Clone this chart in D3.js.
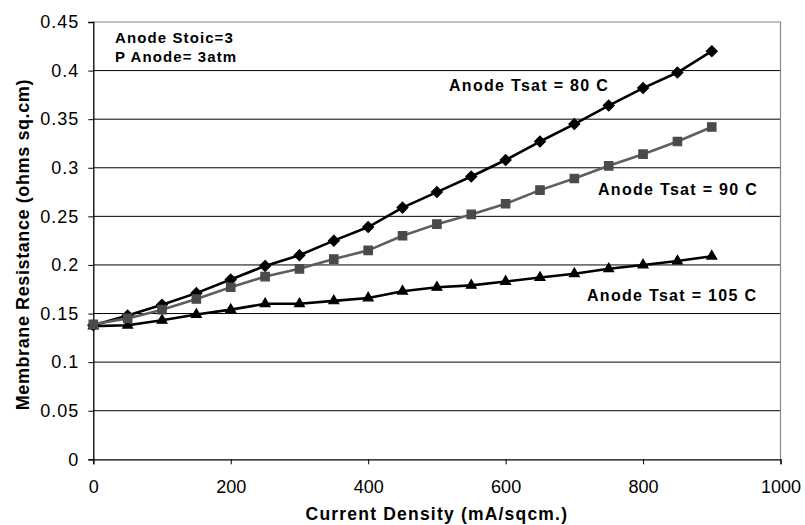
<!doctype html>
<html lang="en">
<head>
    <meta charset="UTF-8">
    <title>membrane resistance</title>
    <script src="https://cdn.jsdelivr.net/npm/d3@7"></script>
    <style>
        body { margin: 0; background: #fff; }
        text { font-family: "Liberation Sans", Arial, sans-serif; fill: #000; }
    </style>
</head>
<body>
<svg width="805" height="525"></svg>
</body>
<script>

    let current = [0, 50, 100, 150, 200, 250, 300, 350, 400, 450, 500, 550, 600, 650, 700, 750, 800, 850, 900];
    let tsat80 = [0.138, 0.148, 0.159, 0.171, 0.185, 0.199, 0.210, 0.225, 0.239, 0.259, 0.275, 0.291, 0.308, 0.327, 0.345, 0.364, 0.382, 0.398, 0.420];
    let tsat90 = [0.139, 0.145, 0.154, 0.165, 0.177, 0.188, 0.196, 0.206, 0.215, 0.230, 0.242, 0.252, 0.263, 0.277, 0.289, 0.302, 0.314, 0.327, 0.342];
    let tsat105 = [0.137, 0.138, 0.143, 0.149, 0.154, 0.160, 0.160, 0.163, 0.166, 0.173, 0.177, 0.179, 0.183, 0.187, 0.191, 0.196, 0.200, 0.204, 0.209];
    let xTicks = [0, 200, 400, 600, 800, 1000];
    let yTicks = [0, 0.05, 0.1, 0.15, 0.2, 0.25, 0.3, 0.35, 0.4, 0.45];

    let grid = {left: 93.3, right: 24.5, top: 22, bottom: 65.7};
    let svg = d3.select("svg");
    let width = +svg.attr("width"), height = +svg.attr("height");
    let w = width - grid.left - grid.right, h = height - grid.top - grid.bottom;
    let g = svg.append("g").attr("transform", "translate(" + grid.left + "," + grid.top + ")");

    let xScale = d3.scaleLinear().domain([0, 1000]).range([0, w]);
    let yScale = d3.scaleLinear().domain([0, 0.45]).range([h, 0]);

    // gridlines
    g.selectAll(".gl").data(yTicks.filter(d => d > 0 && d < 0.45)).enter().append("line")
        .attr("x1", 0).attr("x2", w)
        .attr("y1", d => yScale(d)).attr("y2", d => yScale(d))
        .attr("stroke", "#000").attr("stroke-width", 1);

    // plot area border (top / right)
    g.append("path")
        .attr("d", "M0," + yScale(0.45) + "H" + w + "V" + h)
        .attr("fill", "none").attr("stroke", "#888").attr("stroke-width", 1.2);

    let xAxis = d3.axisBottom(xScale).tickValues(xTicks).tickSize(5).tickPadding(15).tickFormat(d3.format("d"));
    let yAxis = d3.axisLeft(yScale).tickValues(yTicks).tickSize(5).tickPadding(9)
        .tickFormat(d => d === 0 ? "0" : String(+d.toFixed(2)));

    let gx = g.append("g").attr("transform", "translate(0," + h + ")").call(xAxis);
    let gy = g.append("g").call(yAxis);
    [gx, gy].forEach(a => {
        a.select(".domain").attr("stroke", "#000").attr("stroke-width", 1.3);
        a.selectAll(".tick line").attr("stroke", "#000");
        a.selectAll(".tick text").style("font-size", "18px").attr("font-family", null);
    });
    gx.selectAll(".tick text").attr("dy", "0.75em");
    gy.selectAll(".tick text").style("letter-spacing", "1px");

    // axis titles
    svg.append("text")
        .attr("x", grid.left + w / 2).attr("y", 520)
        .attr("text-anchor", "middle")
        .style("font-size", "17.5px").style("font-weight", "bold").style("letter-spacing", "1.2px")
        .text("Current Density (mA/sqcm.)");
    svg.append("text")
        .attr("transform", "translate(29," + (grid.top + h / 2 + 4) + ") rotate(-90)")
        .attr("text-anchor", "middle")
        .style("font-size", "18px").style("font-weight", "bold").style("letter-spacing", "0.6px")
        .text("Membrane Resistance (ohms sq.cm)");

    let series = [
        {name: "80", value: tsat80, line: "#000", fill: "#000", shape: d3.symbolDiamond2, size: 75},
        {name: "105", value: tsat105, line: "#000", fill: "#000", shape: d3.symbolTriangle2, size: 70},
        {name: "90", value: tsat90, line: "#5e5e5e", fill: "#4a4a4a", shape: d3.symbolSquare2, size: 90}
    ];

    let line = d3.line().x((d, i) => xScale(current[i])).y(d => yScale(d));

    series.forEach(s => {
        g.append("path").datum(s.value)
            .attr("d", line)
            .attr("fill", "none").attr("stroke", s.line).attr("stroke-width", 2.6)
            .attr("stroke-linejoin", "round");
        g.selectAll(".m" + s.name).data(s.value).enter().append("path")
            .attr("transform", (d, i) => "translate(" + xScale(current[i]) + "," + yScale(d) + ")")
            .attr("d", d3.symbol().type(s.shape).size(s.size))
            .attr("fill", s.fill).attr("stroke", s.fill).attr("stroke-width", 1.2);
    });

    // annotations
    let notes = [
        {x: 115, y: 43, t: "Anode Stoic=3", fs: 15, ls: 1.1},
        {x: 115, y: 62, t: "P Anode= 3atm", fs: 15, ls: 1.1},
        {x: 449, y: 91, t: "Anode Tsat = 80 C", fs: 16, ls: 1.3},
        {x: 598, y: 195, t: "Anode Tsat = 90 C", fs: 16, ls: 1.3},
        {x: 587, y: 301, t: "Anode Tsat = 105 C", fs: 16, ls: 1.3}
    ];
    svg.selectAll(".note").data(notes).enter().append("text")
        .attr("x", d => d.x).attr("y", d => d.y)
        .style("font-size", d => d.fs + "px").style("font-weight", "bold")
        .style("letter-spacing", d => d.ls + "px")
        .text(d => d.t);

</script>
</html>
